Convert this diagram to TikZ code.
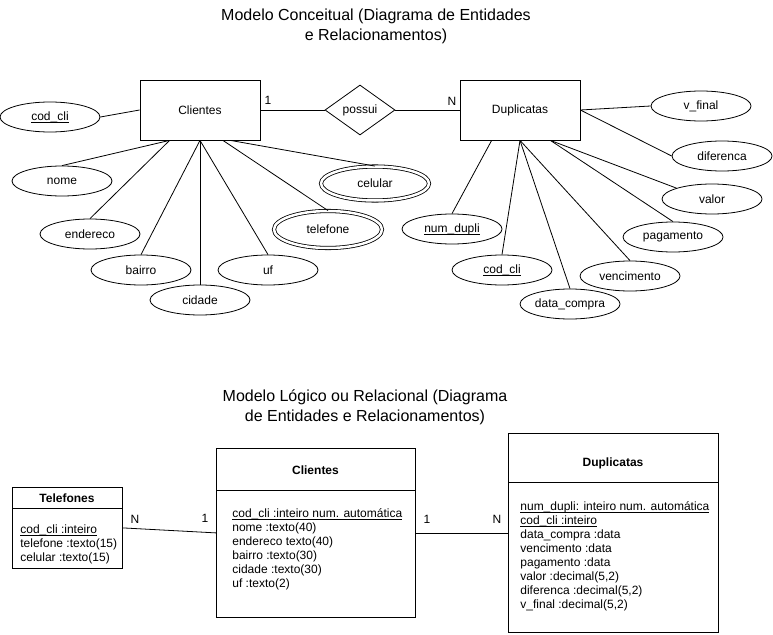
\documentclass[tikz,border=0pt]{standalone}
\usepackage{fontspec}
\setmainfont{Liberation Sans}
\usetikzlibrary{shapes.geometric, calc}
\newsavebox\keybox
\newcommand{\keyline}[1]{\sbox\keybox{#1}\rlap{\vrule width\wd\keybox height -1.4pt depth 2.2pt}\usebox\keybox}

\begin{document}
\begin{tikzpicture}[
    x=1pt, y=-1pt,
    line width=0.8pt,
    every node/.style={font=\fontsize{12}{14}\selectfont},
  ]

  % Frame
  \useasboundingbox (0,0) rectangle (773,634);

  % Styles
  \tikzset{
    entity/.style={draw, rectangle, minimum width=120pt, minimum height=60pt, inner sep=0pt},
    attrib/.style={draw, ellipse, minimum width=100pt, minimum height=30pt, inner sep=0pt},
    multattr/.style={attrib, double, double distance=2.5pt, minimum width=108pt},
    relation/.style={draw, diamond, minimum width=70pt, minimum height=50pt, inner sep=0pt},
    tablebox/.style={draw, rectangle, inner sep=0pt, anchor=north west},
    tablehead/.style={font=\fontsize{12}{14}\selectfont\bfseries},
    tablebody/.style={anchor=north west, align=left, inner sep=0pt},
    title/.style={font=\fontsize{16}{20}\selectfont, align=center},
  }

  % Titles
  \node[title] (tit1) at (376,26) {Modelo Conceitual (Diagrama de Entidades\\e Relacionamentos)};
  \node[title] (tit2) at (365,407) {Modelo Lógico ou Relacional (Diagrama\\de Entidades e Relacionamentos)};

  % Conceptual model
  \node[entity] (cliE) at (200,110) {Clientes};
  \node[relation] (poss) at (360,110) {possui};
  \node[entity] (dupE) at (520,110) {Duplicatas};

  \node[attrib] (aCod) at (50,117) {\keyline{cod\_cli}};
  \node[attrib] (aNome) at (62,181) {nome};
  \node[attrib] (aEnd) at (90,234) {endereco};
  \node[attrib] (aBai) at (141,270) {bairro};
  \node[attrib] (aCid) at (200,300) {cidade};
  \node[attrib] (aUf) at (268,270) {uf};
  \node[multattr, minimum height=37pt] (aTel) at (328,229.5) {telefone};
  \node[multattr, minimum height=34pt] (aCel) at (375,183.5) {celular};

  \node[attrib] (bVfin) at (701,106) {v\_final};
  \node[attrib] (bDif) at (722,156) {diferenca};
  \node[attrib] (bVal) at (712,199) {valor};
  \node[attrib] (bPag) at (673,237) {pagamento};
  \node[attrib] (bVenc) at (630,276) {vencimento};
  \node[attrib] (bData) at (570,304) {data\_compra};
  \node[attrib] (bCod) at (502,270) {\keyline{cod\_cli}};
  \node[attrib] (bNum) at (452,229) {\keyline{num\_dupli}};

  \draw (cliE.east) -- (poss.west);
  \draw (poss.east) -- (dupE.west);
  \node (card1) at (268,100) {1};
  \node (card2) at (452,101) {N};

  \draw (aCod.east) -- (cliE.west);
  \draw (aNome.north) -- (cliE.225);
  \draw (aEnd.north) -- (cliE.225);
  \draw (aBai.north) -- (cliE.south);
  \draw (aCid.north) -- (cliE.south);
  \draw (aUf.north) -- (cliE.south);
  \draw (aTel.north) -- (cliE.307);
  \draw (aCel.north) -- (cliE.315);

  \draw (dupE.east) -- (bVfin.west);
  \draw (dupE.east) -- (bDif.west);
  \draw (dupE.315) -- (bVal.163);
  \draw (dupE.315) -- (bPag.north);
  \draw (dupE.south) -- (bVenc.north);
  \draw (dupE.south) -- (bData.north);
  \draw (dupE.south) -- (bCod.north);
  \draw (dupE.227) -- (bNum.north);

  % Logical model: Telefones
  \node[tablebox, minimum width=110pt, minimum height=81pt] (telT) at (12,487) {};
  \node[tablehead] (telH) at (67,498) {Telefones};
  \draw ($(telT.north west)+(0,21)$) -- ($(telT.north east)+(0,21)$);
  \node[tablebody] (telB) at (20,524) {\keyline{cod\_cli :inteiro}\\
    telefone :texto(15)\\
    celular :texto(15)};

  % Logical model: Clientes
  \node[tablebox, minimum width=199pt, minimum height=169pt] (cliT) at (216,448) {};
  \node[tablehead] (cliH) at (315.5,470) {Clientes};
  \draw ($(cliT.north west)+(0,42)$) -- ($(cliT.north east)+(0,42)$);
  \node[tablebody] (cliB) at (232,508) {\keyline{cod\_cli :inteiro num. automática}\\
    nome :texto(40)\\
    endereco texto(40)\\
    bairro :texto(30)\\
    cidade :texto(30)\\
    uf :texto(2)};

  % Logical model: Duplicatas
  \node[tablebox, minimum width=210pt, minimum height=199pt] (dupT) at (508,433) {};
  \node[tablehead] (dupH) at (613,463) {Duplicatas};
  \draw ($(dupT.north west)+(0,49)$) -- ($(dupT.north east)+(0,49)$);
  \node[tablebody] (dupB) at (520,501) {\keyline{num\_dupli: inteiro num. automática}\\
    \keyline{cod\_cli :inteiro}\\
    data\_compra :data\\
    vencimento :data\\
    pagamento :data\\
    valor :decimal(5,2)\\
    diferenca :decimal(5,2)\\
    v\_final :decimal(5,2)};

  % Relations
  \draw (telT.east) -- (cliT.west);
  \node (card3) at (135,519) {N};
  \node (card4) at (205,518) {1};
  \draw (cliT.east) -- (dupT.west);
  \node (card5) at (427,519) {1};
  \node (card6) at (497,519) {N};

\end{tikzpicture}
\end{document}
